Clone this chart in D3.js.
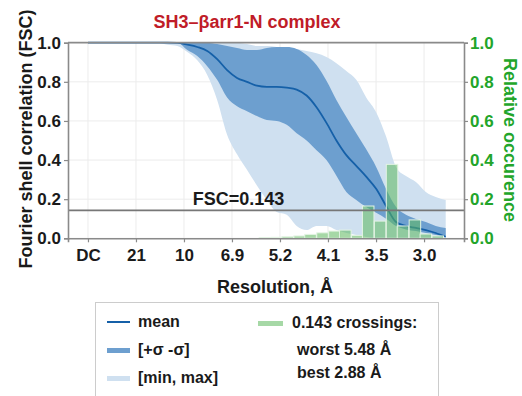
<!DOCTYPE html>
<html>
<head>
<meta charset="utf-8">
<script src="https://cdn.jsdelivr.net/npm/d3@7"></script>
<style>
  html, body { margin: 0; padding: 0; background: #fff; }
  svg { display: block; font-family: "Liberation Sans", Arial, sans-serif; font-weight: bold; }
</style>
</head>
<body>
<svg id="chart" width="522" height="396"></svg>
<script>
// Spatial frequency grid (1/Å) on which the FSC statistics are sampled
const freq = [0.00, 0.01, 0.02, 0.03, 0.04, 0.05, 0.06, 0.07, 0.08, 0.09,
              0.10, 0.11, 0.12, 0.13, 0.14, 0.15, 0.16, 0.17, 0.18, 0.19,
              0.20, 0.21, 0.22, 0.23, 0.24, 0.25, 0.26, 0.27, 0.28, 0.29,
              0.30, 0.31, 0.32, 0.33, 0.34, 0.35, 0.36];

// FSC statistics over all half-map pairs
const fscMean = [1, 1, 1, 1, 1, 1, 1, 1, 1, 0.999,
                 0.99, 0.978, 0.958, 0.916, 0.86, 0.82, 0.80, 0.78, 0.774, 0.774,
                 0.77, 0.76, 0.73, 0.67, 0.59, 0.50, 0.425, 0.37, 0.315, 0.253,
                 0.165, 0.083, 0.063, 0.053, 0.042, 0.027, 0.008];
const fscPlusSigma = [1, 1, 1, 1, 1, 1, 1, 1, 1, 1,
                      1, 1, 1, 0.993, 0.983, 0.973, 0.963, 0.963, 0.973, 0.978,
                      0.978, 0.968, 0.937, 0.886, 0.805, 0.707, 0.62, 0.537, 0.455, 0.365,
                      0.252, 0.16, 0.12, 0.099, 0.083, 0.063, 0.053];
const fscMinusSigma = [1, 1, 1, 1, 1, 1, 1, 1, 1, 1,
                       0.963, 0.932, 0.88, 0.81, 0.72, 0.675, 0.65, 0.625, 0.605, 0.60,
                       0.58, 0.537, 0.50, 0.45, 0.40, 0.32, 0.237, 0.196, 0.16, 0.13,
                       0.10, 0.063, 0.045, 0.037, 0.027, 0.017, 0.005];
const fscMax = [1, 1, 1, 1, 1, 1, 1, 1, 1, 1,
                1, 1, 1, 1, 1, 1, 0.993, 0.983, 0.983, 0.978,
                0.973, 0.968, 0.958, 0.946, 0.927, 0.895, 0.855, 0.81, 0.72, 0.645,
                0.52, 0.365, 0.318, 0.288, 0.237, 0.211, 0.196];
const fscMin = [1, 1, 1, 1, 1, 1, 1, 1, 0.99, 0.983,
                0.952, 0.91, 0.835, 0.707, 0.53, 0.43, 0.35, 0.27, 0.196, 0.134,
                0.12, 0.063, 0.042, 0.063, 0.063, 0.042, 0.027, 0.017, 0.007, 0,
                0, 0, 0, 0, 0, 0, 0];

// Histogram of 0.143 crossing positions (bin centres in 1/Å, relative occurrence)
const crossingBins = [0.178, 0.190, 0.201, 0.213, 0.224, 0.236, 0.248, 0.259,
                      0.271, 0.282, 0.294, 0.306, 0.317, 0.329, 0.340, 0.352];
const crossingShare = [0.003, 0.005, 0.008, 0.012, 0.020, 0.028, 0.037, 0.042,
                       0.015, 0.165, 0.088, 0.378, 0.063, 0.094, 0.022, 0.012];
const binWidth = 0.0116;

// Resolution axis ticks (spatial frequency and their labels in Å)
const xTickFreq = [0, 0.0483, 0.0966, 0.1449, 0.1932, 0.2415, 0.2899, 0.3382];
const xTickLabels = ["DC", "21", "10", "6.9", "5.2", "4.1", "3.5", "3.0"];
const yTicks = [0, 0.2, 0.4, 0.6, 0.8, 1.0];

const threshold = 0.143;
const titleText = "SH3\u2013\u03b2arr1-N complex";
const worstRes = "5.48";
const bestRes = "2.88";

const svg = d3.select("#chart");
const plotLeft = 68, plotRight = 464, plotTop = 42.7, plotBottom = 238.3;

const x = d3.scaleLinear().domain([-0.0201, 0.3784]).range([plotLeft, plotRight]);
const y = d3.scaleLinear().domain([0, 1]).range([plotBottom, plotTop]);
const y2 = d3.scaleLinear().domain([0, 1]).range([plotBottom, plotTop]);

const green = "#22a52a";
const axisGrey = "#8a8a8a";
const ink = "#1a1a1a";
const fontFam = "Liberation Sans, Arial, sans-serif";

// grid
const grid = svg.append("g");
grid.selectAll("line.v").data(xTickFreq).join("line")
  .attr("x1", d => x(d)).attr("x2", d => x(d))
  .attr("y1", plotTop).attr("y2", plotBottom)
  .attr("stroke", "#ececec").attr("stroke-width", 1);
grid.selectAll("line.h").data(yTicks).join("line")
  .attr("x1", plotLeft).attr("x2", plotRight)
  .attr("y1", d => y(d)).attr("y2", d => y(d))
  .attr("stroke", "#ececec").attr("stroke-width", 1);

const pts = freq.map((f, i) => ({
  f, mean: fscMean[i], hi: fscPlusSigma[i], lo: fscMinusSigma[i],
  max: fscMax[i], min: fscMin[i]
}));

const curve = d3.curveMonotoneX;

// [min, max] band
svg.append("path").datum(pts)
  .attr("fill", "#cfe0f0")
  .attr("d", d3.area().curve(curve).x(d => x(d.f)).y0(d => y(d.min)).y1(d => y(d.max)));

// [+σ, -σ] band
svg.append("path").datum(pts)
  .attr("fill", "#6d9fcf")
  .attr("d", d3.area().curve(curve).x(d => x(d.f)).y0(d => y(d.lo)).y1(d => y(d.hi)));

// mean FSC
svg.append("path").datum(pts)
  .attr("fill", "none").attr("stroke", "#1560a8").attr("stroke-width", 1.8)
  .attr("d", d3.line().curve(curve).x(d => x(d.f)).y(d => y(d.mean)));

// crossing histogram
svg.append("g").selectAll("rect").data(crossingBins).join("rect")
  .attr("x", d => x(d - binWidth / 2))
  .attr("width", d => x(d + binWidth / 2) - x(d - binWidth / 2))
  .attr("y", (d, i) => y2(crossingShare[i]))
  .attr("height", (d, i) => y2(0) - y2(crossingShare[i]))
  .attr("fill", "rgb(92,184,92)").attr("fill-opacity", 0.55)
  .attr("stroke", "#e4f4e4").attr("stroke-width", 1);

// FSC = 0.143 threshold
svg.append("line")
  .attr("x1", plotLeft).attr("x2", plotRight)
  .attr("y1", y(threshold)).attr("y2", y(threshold))
  .attr("stroke", "#777").attr("stroke-width", 1.6);
svg.append("text")
  .attr("x", x(0.1055)).attr("y", y(threshold) - 5)
  .attr("font-size", 18).attr("fill", ink)
  .text("FSC=" + threshold);

// frame top edge
svg.append("line").attr("x1", plotLeft).attr("x2", plotRight).attr("y1", plotTop).attr("y2", plotTop)
  .attr("stroke", axisGrey).attr("stroke-width", 1.8);

// left axis
const yAxis = svg.append("g").attr("transform", `translate(${plotLeft},0)`)
  .call(d3.axisLeft(y).tickValues(yTicks).tickFormat(d3.format(".1f")).tickSize(4).tickPadding(3));
yAxis.selectAll("text").attr("font-size", 17).attr("fill", ink).attr("font-family", fontFam);

// right axis
const y2Axis = svg.append("g").attr("transform", `translate(${plotRight},0)`)
  .call(d3.axisRight(y2).tickValues(yTicks).tickFormat(d3.format(".1f")).tickSize(4).tickPadding(2));
y2Axis.selectAll("text").attr("font-size", 17).attr("fill", green).attr("font-family", fontFam);

// bottom axis
const xAxis = svg.append("g").attr("transform", `translate(0,${plotBottom})`)
  .call(d3.axisBottom(x).tickValues(xTickFreq).tickFormat((d, i) => xTickLabels[i]).tickSize(4).tickPadding(7));
xAxis.selectAll("text").attr("font-size", 17).attr("fill", ink).attr("font-family", fontFam);

[yAxis, y2Axis, xAxis].forEach(a => {
  a.select(".domain").attr("stroke", axisGrey).attr("stroke-width", 1.6);
  a.selectAll(".tick line").attr("stroke", axisGrey).attr("stroke-width", 1.2);
});

// titles
svg.append("text").attr("x", 247).attr("y", 28).attr("text-anchor", "middle")
  .attr("font-size", 18).attr("fill", "#c01c28").text(titleText);

svg.append("text").attr("x", 275).attr("y", 293).attr("text-anchor", "middle")
  .attr("font-size", 18).attr("fill", ink).text("Resolution, \u00c5");

svg.append("text").attr("transform", "translate(32,139) rotate(-90)")
  .attr("text-anchor", "middle").attr("font-size", 18).attr("fill", ink)
  .text("Fourier shell correlation (FSC)");

svg.append("text").attr("transform", "translate(504,140) rotate(90)")
  .attr("text-anchor", "middle").attr("font-size", 18).attr("fill", green)
  .text("Relative occurence");

// legend
const lg = svg.append("g");
lg.append("rect").attr("x", 95.5).attr("y", 302.5).attr("width", 343).attr("height", 110)
  .attr("fill", "#fff").attr("stroke", "#cccccc").attr("stroke-width", 1);

const legendRows = [
  { label: "mean", kind: "line", color: "#1560a8", yb: 327 },
  { label: "[+\u03c3 -\u03c3]", kind: "rect", color: "#6d9fcf", yb: 355 },
  { label: "[min, max]", kind: "rect", color: "#cfe0f0", yb: 383 }
];
legendRows.forEach(r => {
  if (r.kind === "line") {
    lg.append("line").attr("x1", 107).attr("x2", 130).attr("y1", r.yb - 5).attr("y2", r.yb - 5)
      .attr("stroke", r.color).attr("stroke-width", 2);
  } else {
    lg.append("rect").attr("x", 107).attr("y", r.yb - 7).attr("width", 23).attr("height", 5)
      .attr("fill", r.color);
  }
  lg.append("text").attr("x", 138).attr("y", r.yb).attr("font-size", 16).attr("fill", ink).text(r.label);
});
lg.append("rect").attr("x", 258).attr("y", 321).attr("width", 25).attr("height", 5)
  .attr("fill", "rgb(92,184,92)").attr("fill-opacity", 0.55);
lg.append("text").attr("x", 292).attr("y", 328).attr("font-size", 16).attr("fill", ink)
  .text(threshold + " crossings:");
lg.append("text").attr("x", 297).attr("y", 355).attr("font-size", 16).attr("fill", ink)
  .text("worst " + worstRes + " \u00c5");
lg.append("text").attr("x", 297).attr("y", 378).attr("font-size", 16).attr("fill", ink)
  .text("best " + bestRes + " \u00c5");
</script>
</body>
</html>
